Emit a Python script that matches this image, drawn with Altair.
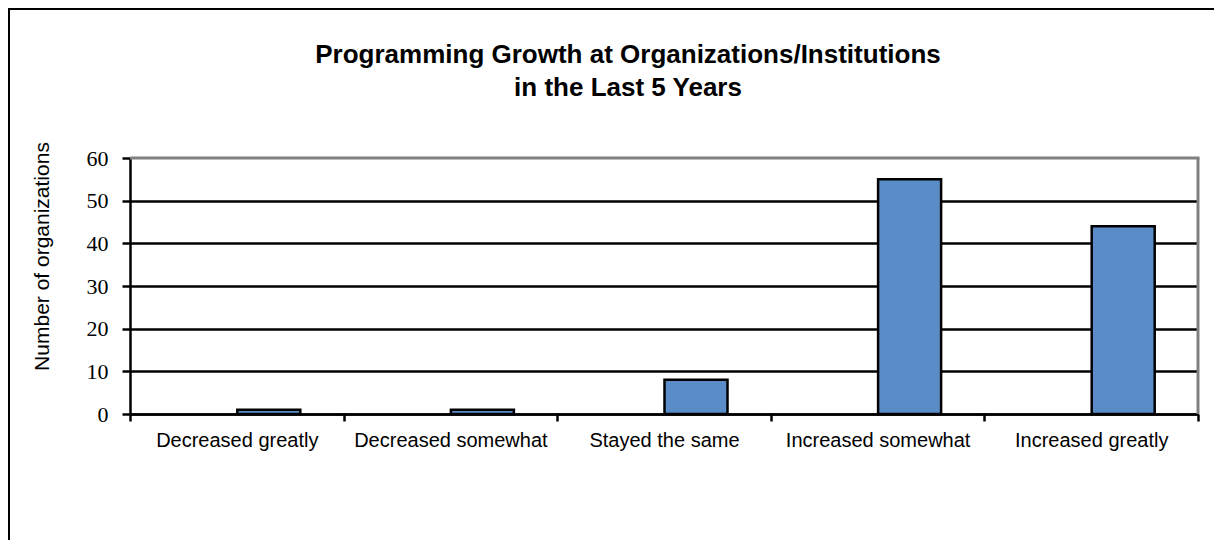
import altair as alt
import pandas as pd

categories = ["Decreased greatly", "Decreased somewhat", "Stayed the same",
              "Increased somewhat", "Increased greatly"]
values = [1, 1, 8, 55, 44]
y_ticks = [0, 10, 20, 30, 40, 50, 60]
title_lines = ["Programming Growth at Organizations/Institutions", "in the Last 5 Years"]

df = pd.DataFrame({"category": categories, "count": values})

SANS = "Liberation Sans, Arial, sans-serif"
SERIF = "Liberation Serif, Times New Roman, serif"

W, H = 1068, 256

frame = alt.Chart(pd.DataFrame({"f": [0]})).mark_rect(
    fill=None, stroke="black", strokeWidth=2
).encode(
    x=alt.value(-121), x2=alt.value(W + 300),
    y=alt.value(-149), y2=alt.value(H + 300),
)

top_border = alt.Chart(pd.DataFrame({"f": [0]})).mark_rule(
    color="#808080", strokeWidth=3
).encode(x=alt.value(0), x2=alt.value(W + 1.5), y=alt.value(0))

right_border = alt.Chart(pd.DataFrame({"f": [0]})).mark_rule(
    color="#808080", strokeWidth=3
).encode(x=alt.value(W), y=alt.value(0), y2=alt.value(H))

bars = alt.Chart(df).mark_bar(
    color="#5A8CC8", stroke="black", strokeWidth=2.5, width=63, xOffset=32
).encode(
    x=alt.X("category:N", sort=categories,
            scale=alt.Scale(paddingInner=0, paddingOuter=0),
            axis=alt.Axis(title=None, labelAngle=0, labelFont=SANS, labelFontSize=20,
                          labelColor="black", labelPadding=9, labelLimit=400,
                          domainColor="black", domainWidth=2.5,
                          ticks=True, tickColor="black", tickWidth=2.5, tickSize=7,
                          tickBand="extent", grid=False)),
    y=alt.Y("count:Q", scale=alt.Scale(domain=[0, 60], nice=False),
            axis=alt.Axis(title="Number of organizations", values=y_ticks,
                          titleFont=SANS, titleFontSize=21, titleFontWeight="normal",
                          titleColor="black", titleX=-88, titleY=98,
                          titleAngle=270, titleAlign="center", titleBaseline="middle",
                          labelFont=SERIF, labelFontSize=22, labelColor="black",
                          labelPadding=14,
                          domainColor="black", domainWidth=2.5,
                          tickColor="black", tickWidth=2.5, tickSize=8,
                          grid=True, gridColor="black", gridWidth=2.5,
                          gridOpacity={"condition": {"test": "datum.value >= 60", "value": 0},
                                       "value": 1})),
)

title_df = pd.DataFrame({"line": title_lines, "row": [0, 1]})
title = alt.Chart(title_df).mark_text(
    font=SANS, fontSize=26, fontWeight="bold", color="black",
    align="center", baseline="middle"
).encode(
    text="line:N",
    x=alt.value(498),
    y=alt.Y("row:Q", scale=alt.Scale(domain=[0, 1], range=[-103, -70]), axis=None),
)

chart = alt.layer(frame, top_border, right_border, bars, title).resolve_scale(
    y="independent"
).properties(
    width=W, height=H,
    autosize=alt.AutoSizeParams(type="none"),
    padding={"left": 122, "top": 150, "right": 16, "bottom": 126},
).configure_view(
    fill="#EEEEEE", stroke=None
).configure(background="white")

chart.save("out.html", embed_options={"renderer": "svg", "actions": False})
